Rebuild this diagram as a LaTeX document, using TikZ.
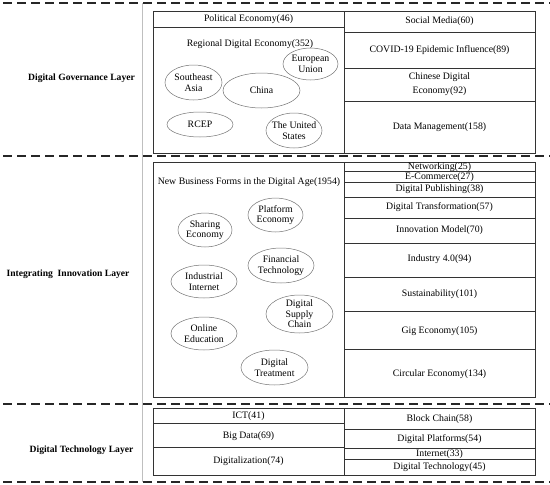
\documentclass[tikz,border=0pt]{standalone}
\usepackage{fontspec}
\setmainfont{Liberation Serif}
\usetikzlibrary{shapes.geometric}
\begin{document}
\begin{tikzpicture}[x=1pt,y=-1pt,
  txt/.style={inner sep=0pt, align=center, font=\fontsize{9.8}{10.5}\selectfont},
  lay/.style={inner sep=0pt, font=\fontsize{9.6}{11}\selectfont\bfseries},
  ell/.style={draw=black!55, line width=0.5pt},
  box/.style={draw=black!80, line width=0.9pt},
  sep/.style={draw=black!85, line width=1.2pt, dash pattern=on 9pt off 5pt},
  vline/.style={draw=black!25, line width=1pt}]
\useasboundingbox (0,0) rectangle (550,485);

% separators
\coordinate (s1a) at (3,3);   \coordinate (s1b) at (550,3);
\coordinate (s2a) at (3,156); \coordinate (s2b) at (550,156);
\coordinate (s3a) at (3,404); \coordinate (s3b) at (550,404);
\coordinate (s4a) at (3,482); \coordinate (s4b) at (550,482);
\draw[sep] (s1a) -- (s1b);
\draw[sep] (s2a) -- (s2b);
\draw[sep] (s3a) -- (s3b);
\draw[sep] (s4a) -- (s4b);
\coordinate (vt) at (142,3); \coordinate (vb) at (142,482);
\draw[vline] (vt) -- (vb);

% layer labels
\node[lay] (L1) at (81.5,78) {Digital Governance Layer};
\node[lay] (L2) at (68,274) {Integrating\ \ Innovation Layer};
\node[lay] (L3) at (81.5,450) {Digital Technology Layer};

% ---------- governance ----------
\draw[box] (153,11) rectangle (535,153);
\draw[box] (344,11) -- (344,153);
\draw[box] (153,27) -- (344,27);
\draw[box] (344,32) -- (535,32);
\draw[box] (344,68) -- (535,68);
\draw[box] (344,101) -- (535,101);
\node[txt] (pe) at (248.5,19.5) {Political Economy(46)};
\node[txt] (rde) at (250,44) {Regional Digital Economy(352)};
\node[txt] (sm) at (439.5,21.5) {Social Media(60)};
\node[txt] (cov) at (439.5,50) {COVID-19 Epidemic Influence(89)};
\node[txt, font=\fontsize{9.8}{14}\selectfont] (cde) at (439.5,84) {Chinese Digital\\Economy(92)};
\node[txt] (dm) at (439.5,127) {Data Management(158)};

\node[txt] (sea) at (193.5,82.5) {Southeast\\Asia};
\draw[ell] (sea.center) ellipse [x radius=28.5, y radius=17.5];
\node[txt] (cn) at (261.5,90.5) {China};
\draw[ell] (cn.center) ellipse [x radius=38.5, y radius=17.5];
\node[txt] (eu) at (310.5,64) {European\\Union};
\draw[ell] (eu.center) ellipse [x radius=27.5, y radius=16];
\node[txt] (rcep) at (200,124.5) {RCEP};
\draw[ell] (rcep.center) ellipse [x radius=33, y radius=12.5];
\node[txt] (us) at (294,130.5) {The United\\States};
\draw[ell] (us.center) ellipse [x radius=28, y radius=17.5];

% ---------- innovation ----------
\draw[box] (153,162) rectangle (535,397);
\draw[box] (344,162) -- (344,397);
\foreach \yy in {171,182,197,218,243,277,311,349}
  \draw[box] (344,\yy) -- (535,\yy);
\node[txt] (nbf) at (249,182) {New Business Forms in the Digital Age(1954)};
\node[txt] (nw) at (439.5,167) {Networking(25)};
\node[txt] (ec) at (439.5,177) {E-Commerce(27)};
\node[txt] (dp) at (439.5,189.5) {Digital Publishing(38)};
\node[txt] (dt) at (439.5,207.5) {Digital Transformation(57)};
\node[txt] (im) at (439.5,230.5) {Innovation Model(70)};
\node[txt] (i4) at (439.5,259.5) {Industry 4.0(94)};
\node[txt] (su) at (439.5,294) {Sustainability(101)};
\node[txt] (gig) at (439.5,331) {Gig Economy(105)};
\node[txt] (ce) at (439.5,374) {Circular Economy(134)};

\node[txt] (se) at (205,230) {Sharing\\Economy};
\draw[ell] (se.center) ellipse [x radius=27, y radius=17];
\node[txt] (pf) at (275.5,215) {Platform\\Economy};
\draw[ell] (pf.center) ellipse [x radius=27.5, y radius=17];
\node[txt] (ft) at (281,265.5) {Financial\\Technology};
\draw[ell] (ft.center) ellipse [x radius=33, y radius=17.5];
\node[txt] (ii) at (204,281.5) {Industrial\\Internet};
\draw[ell] (ii.center) ellipse [x radius=33, y radius=16.5];
\node[txt] (dsc) at (299.5,314) {Digital\\Supply\\Chain};
\draw[ell] (dsc.center) ellipse [x radius=33.5, y radius=19];
\node[txt] (oe) at (204,333.5) {Online\\Education};
\draw[ell] (oe.center) ellipse [x radius=33, y radius=16.5];
\node[txt] (dtr) at (274.5,367.5) {Digital\\Treatment};
\draw[ell] (dtr.center) ellipse [x radius=33.5, y radius=17.5];

% ---------- technology ----------
\draw[box] (153,408) rectangle (535,475);
\draw[box] (344,408) -- (344,475);
\draw[box] (153,423) -- (344,423);
\draw[box] (153,447) -- (344,447);
\draw[box] (344,429) -- (535,429);
\draw[box] (344,448) -- (535,448);
\draw[box] (344,459) -- (535,459);
\node[txt] (ict) at (248.5,416) {ICT(41)};
\node[txt] (bd) at (248.5,436) {Big Data(69)};
\node[txt] (dig) at (248.5,461) {Digitalization(74)};
\node[txt] (bc) at (439.5,419) {Block Chain(58)};
\node[txt] (dpl) at (439.5,439) {Digital Platforms(54)};
\node[txt] (inet) at (439.5,454) {Internet(33)};
\node[txt] (dtech) at (439.5,467) {Digital Technology(45)};
\end{tikzpicture}
\end{document}
